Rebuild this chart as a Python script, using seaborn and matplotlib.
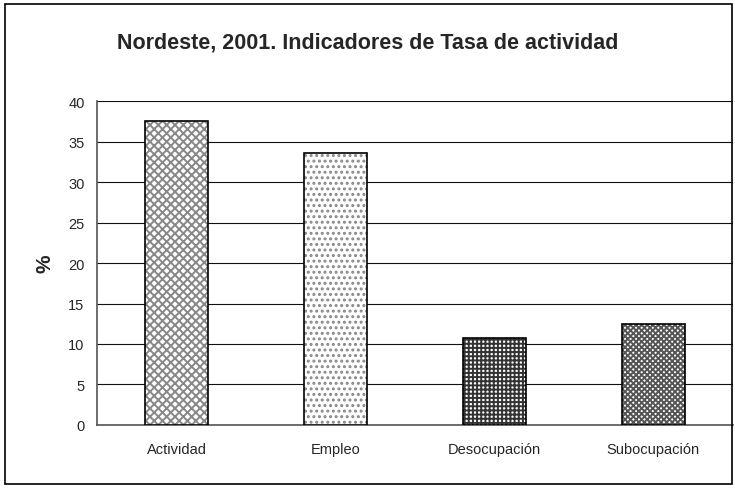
import matplotlib
matplotlib.use("Agg")
import matplotlib.pyplot as plt
import seaborn as sns
import pandas as pd
from matplotlib.patches import Rectangle

# Data
categorias = ["Actividad", "Empleo", "Desocupación", "Subocupación"]
valores = [37.6, 33.6, 10.7, 12.5]
yticks = [0, 5, 10, 15, 20, 25, 30, 35, 40]

df = pd.DataFrame({"cat": categorias, "val": valores})

sns.set_style("white")
plt.rcParams["font.family"] = ["Liberation Sans", "DejaVu Sans"]
plt.rcParams["hatch.linewidth"] = 1.4

fig = plt.figure(figsize=(7.35, 4.89), dpi=100)
ax = fig.add_axes([0.132, 0.129, 0.865, 0.662])

sns.barplot(data=df, x="cat", y="val", color="white", width=0.4,
            edgecolor="black", linewidth=1.2, ax=ax, zorder=3)

hatches = ["xxxx", "...", "++++", "xxxxxx"]
hcolors = ["#888888", "#888888", "#333333", "#555555"]
for bar, h, hc in zip(ax.patches, hatches, hcolors):
    bar.set_hatch(h)
    bar._hatch_color = matplotlib.colors.to_rgba(hc)

ax.set_ylim(0, 40)
ax.set_xlim(-0.5, 3.5)
ax.set_yticks(yticks)
ax.yaxis.grid(True, color="#111111", linewidth=0.8, zorder=0)
ax.set_axisbelow(True)

# ticks on category boundaries
ax.set_xticks([-0.5, 0.5, 1.5, 2.5, 3.5], minor=True)
ax.tick_params(axis="x", which="minor", length=5, color="#444444", direction="out")
ax.tick_params(axis="x", which="major", length=0, labelsize=10.5, pad=12)
ax.tick_params(axis="y", length=5, color="#444444", direction="out", labelsize=10.5, pad=4)
ax.set_xticks(range(len(categorias)))
ax.set_xticklabels(categorias)

for s in ["top", "right"]:
    ax.spines[s].set_visible(False)
for s in ["left", "bottom"]:
    ax.spines[s].set_color("#555555")
    ax.spines[s].set_linewidth(1.2)

ax.set_xlabel("")
ax.set_ylabel("%", fontsize=15, fontweight="bold", labelpad=10)

fig.text(0.5, 0.912, "Nordeste, 2001. Indicadores de Tasa de actividad",
         ha="center", va="center", fontsize=15.5, fontweight="bold")

# outer chart frame
fig.patches.append(Rectangle((5 / 735, 4 / 489), 727 / 735, 480 / 489,
                             transform=fig.transFigure, fill=False,
                             edgecolor="black", linewidth=1.2))

plt.savefig("out.png", dpi=100)
